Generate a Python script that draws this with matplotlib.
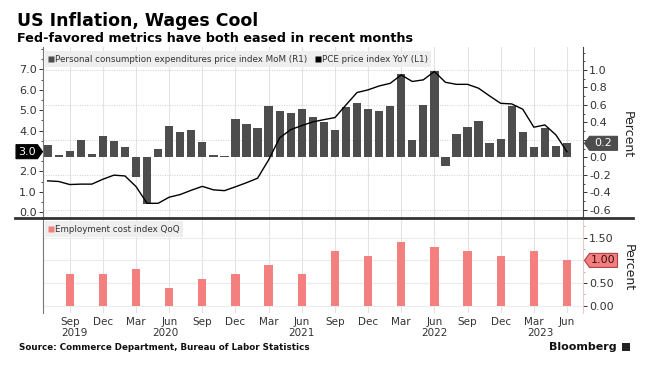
import numpy as np
import matplotlib
matplotlib.use("Agg")
import matplotlib.pyplot as plt
from matplotlib.lines import Line2D
from matplotlib.patches import Polygon, Rectangle
from matplotlib.transforms import IdentityTransform, blended_transform_factory

plt.rcParams['font.family'] = ['DejaVu Sans']
plt.rcParams['axes.unicode_minus'] = False

# ---------------- data (monthly, Jul 2019 .. Jun 2023) ----------------
pce_mom = [0.14, 0.03, 0.07, 0.20, 0.04, 0.24, 0.19, 0.12, -0.22, -0.53, 0.10, 0.36,
           0.29, 0.31, 0.18, 0.03, 0.015, 0.435, 0.385, 0.34, 0.59, 0.53, 0.51, 0.55,
           0.46, 0.40, 0.31, 0.58, 0.62, 0.55, 0.53, 0.59, 0.95, 0.20, 0.60, 0.99,
           -0.095, 0.27, 0.35, 0.42, 0.16, 0.21, 0.59, 0.29, 0.12, 0.34, 0.13, 0.16]
pce_yoy = [1.54, 1.51, 1.36, 1.38, 1.38, 1.62, 1.82, 1.78, 1.26, 0.44, 0.44, 0.74,
           0.87, 1.08, 1.27, 1.10, 1.06, 1.25, 1.45, 1.67, 2.57, 3.65, 4.05, 4.25,
           4.43, 4.54, 4.64, 5.26, 5.87, 6.00, 6.19, 6.32, 6.73, 6.41, 6.49, 6.90,
           6.37, 6.27, 6.27, 6.08, 5.70, 5.34, 5.31, 5.05, 4.17, 4.28, 3.79, 2.97]
# quarterly (Sep 2019 .. Jun 2023)
eci_qoq = [0.7, 0.7, 0.8, 0.4, 0.6, 0.7, 0.9, 0.7, 1.2, 1.1, 1.4, 1.3, 1.2, 1.1, 1.2, 1.0]

month_ticks = ['Sep', 'Dec', 'Mar', 'Jun'] * 4
year_labels = ['2019', '2020', '2021', '2022', '2023']
year_label_pos = [2.4, 10.7, 23.0, 35.0, 44.6]   # month index (0 = Jul 2019)

title = 'US Inflation, Wages Cool'
subtitle = 'Fed-favored metrics have both eased in recent months'
source = 'Source: Commerce Department, Bureau of Labor Statistics'

# ---------------- styling ----------------
W, H = 648, 366
BAR_DARK = '#4d4d4d'
ECI_COL = '#f47f7f'
GRID = '#e3e3e3'
TXT = '#333333'

x_month = np.arange(len(pce_mom))
x_q = np.arange(2, len(pce_mom), 3)
xlim = (-0.42, 48.45)

fig = plt.figure(figsize=(W / 100, H / 100), dpi=100)

def fx(px):
    return px / W

def fy(py):
    return 1 - py / H

def tick_text(vals, fmt, hide_near, tol):
    # labels hidden behind the last-value tag are left blank
    return ['' if abs(v - hide_near) < tol else fmt % v for v in vals]

# top panel: main axis = right (MoM bars), twin = left (YoY line)
axr = fig.add_axes([fx(43), fy(218), fx(583) - fx(43), fy(47) - fy(218)])
axl = axr.twinx()
axr.yaxis.tick_right()
axr.yaxis.set_label_position('right')
axl.yaxis.tick_left()
axl.yaxis.set_label_position('left')

for v in x_q:
    axr.axvline(v, color=GRID, lw=0.8, zorder=0)
for v in [1.0, 0.6, 0.2, -0.2, -0.6]:
    axr.axhline(v, color='#d0d0d0', lw=0.7, ls=(0, (1, 1.5)), zorder=0)

axr.bar(x_month, pce_mom, width=0.75, color=BAR_DARK, zorder=2)
axl.plot(x_month, pce_yoy, color='black', lw=1.0, zorder=3)

axr.set_xlim(*xlim)
axr.set_ylim(-0.695, 1.263)
axl.set_ylim(-0.28, 8.1)

r_ticks = np.round(np.arange(-0.6, 1.01, 0.2), 1)
axr.set_yticks(r_ticks)
axr.set_yticks(np.round(np.arange(-0.6, 1.21, 0.1), 1), minor=True)
axr.set_yticklabels(tick_text(r_ticks, '%.1f', pce_mom[-1], 0.1))
l_ticks = np.arange(0, 7.01, 1.0)
axl.set_yticks(l_ticks)
axl.set_yticks(np.arange(0, 8.01, 0.5), minor=True)
axl.set_yticklabels(tick_text(l_ticks, '%.1f', pce_yoy[-1], 0.45))

for a in (axr, axl):
    a.tick_params(axis='x', which='both', bottom=False, labelbottom=False)
    a.spines['top'].set_visible(False)
    a.spines['bottom'].set_visible(False)
axr.tick_params(axis='y', which='major', length=3, width=0.7, pad=1.5, labelsize=8, colors=TXT)
axr.tick_params(axis='y', which='minor', length=1.5, width=0.6, colors=TXT)
axl.tick_params(axis='y', which='major', length=3, width=0.7, pad=1.5, labelsize=8, colors=TXT)
axl.tick_params(axis='y', which='minor', length=1.5, width=0.6, colors=TXT)
axr.spines['left'].set_visible(False)
axl.spines['right'].set_visible(False)
axl.spines['left'].set_color('#777777')
axr.spines['right'].set_color('#444444')
axl.spines['left'].set_linewidth(0.8)
axr.spines['right'].set_linewidth(0.8)
axr.set_facecolor('white')

h1 = Line2D([], [], marker='s', color='none', markerfacecolor=BAR_DARK, markeredgecolor='none', markersize=5)
h2 = Line2D([], [], marker='s', color='none', markerfacecolor='black', markeredgecolor='none', markersize=5)
leg = axl.legend([h1, h2], ['Personal consumption expenditures price index MoM (R1)', 'PCE price index YoY (L1)'],
                 loc='upper left', bbox_to_anchor=(0.0, 0.985), ncol=2, fontsize=6.3, frameon=True,
                 fancybox=False, framealpha=1, facecolor='#eeeeee', edgecolor='none', borderpad=0.4,
                 handlelength=0.6, handletextpad=0.15, columnspacing=0.9, borderaxespad=0.2)
for t in leg.get_texts():
    t.set_color(TXT)

fig.text(fx(627), fy(135), 'Percent', rotation=270, ha='center', va='center', fontsize=9, color='#222222')

# bottom panel
axb = fig.add_axes([fx(43), fy(313), fx(583) - fx(43), fy(218) - fy(313)])
for v in x_q:
    axb.axvline(v, color=GRID, lw=0.8, zorder=0)
for v in [0.0, 0.5, 1.0, 1.5]:
    axb.axhline(v, color='#ececec', lw=0.8, zorder=0)
axb.bar(x_q, eci_qoq, width=0.75, color=ECI_COL, zorder=2)
axb.set_xlim(*xlim)
axb.set_ylim(-0.161, 1.936)
axb.yaxis.tick_right()
b_ticks = [0.0, 0.5, 1.0, 1.5]
axb.set_yticks(b_ticks)
axb.set_yticklabels(tick_text(b_ticks, '%.2f', eci_qoq[-1], 0.2))
axb.set_yticks(np.arange(0, 1.76, 0.25), minor=True)
axb.tick_params(axis='y', which='major', length=3, width=0.7, pad=1.5, labelsize=8, colors=TXT)
axb.tick_params(axis='y', which='minor', length=1.5, width=0.6, colors='#cc9999')
axb.set_xticks(x_q)
axb.set_xticklabels(month_ticks)
axb.tick_params(axis='x', length=0, pad=3, labelsize=7.5, colors=TXT)
for s in ('top', 'bottom'):
    axb.spines[s].set_visible(False)
axb.spines['left'].set_color('#777777')
axb.spines['left'].set_linewidth(0.8)
axb.spines['right'].set_color('#e6cccc')
axb.spines['right'].set_linewidth(0.8)
trb = blended_transform_factory(axb.transData, axb.transAxes)
for lab, pos in zip(year_labels, year_label_pos):
    axb.text(pos, -0.215, lab, transform=trb, ha='center', va='center', fontsize=7.5, color=TXT)

h3 = Line2D([], [], marker='s', color='none', markerfacecolor=ECI_COL, markeredgecolor='none', markersize=5)
leg2 = axb.legend([h3], ['Employment cost index QoQ'], loc='upper left', bbox_to_anchor=(0.0, 0.985),
                  fontsize=6.3, frameon=True, fancybox=False, framealpha=1, facecolor='#eeeeee',
                  edgecolor='none', borderpad=0.4, handlelength=0.6, handletextpad=0.15, borderaxespad=0.2)
for t in leg2.get_texts():
    t.set_color(TXT)

fig.text(fx(628), fy(268), 'Percent', rotation=270, ha='center', va='center', fontsize=9, color='#222222')

# separator
fig.add_artist(Line2D([fx(15), fx(633)], [fy(218), fy(218)], color='#333333', lw=2.0))

# value tags
def tag(ax, val, side, label, fc, ec, tc):
    y = ax.transData.transform((0, val))[1]
    h = 7
    if side == 'right':
        xe = ax.transAxes.transform((1, 0))[0]
        tip, b0, b1 = xe + 1.5, xe + 6.5, xe + 34.5
        pts = [(tip, y), (b0, y + h), (b1, y + h), (b1, y - h), (b0, y - h)]
        cx = (b0 + b1) / 2
    else:
        xe = ax.transAxes.transform((0, 0))[0]
        tip, b1, b0 = xe - 0.5, xe - 5.5, 16
        pts = [(b0, y + h), (b1, y + h), (tip, y), (b1, y - h), (b0, y - h)]
        cx = (b0 + b1) / 2
    fig.add_artist(Polygon(pts, closed=True, transform=IdentityTransform(), fc=fc, ec=ec, lw=0.8))
    fig.text(cx, y, label, transform=IdentityTransform(), ha='center', va='center', fontsize=8, color=tc)

tag(axr, pce_mom[-1], 'right', '%.1f' % pce_mom[-1], '#4d4d4d', '#4d4d4d', 'white')
tag(axl, pce_yoy[-1], 'left', '%.1f' % pce_yoy[-1], 'black', 'black', 'white')
tag(axb, eci_qoq[-1], 'right', '%.2f' % eci_qoq[-1], ECI_COL, '#b04040', '#3a1010')

# titles and footer
fig.text(fx(17), fy(21), title, ha='left', va='center', fontsize=12.5, fontweight='bold', color='black')
fig.text(fx(17), fy(38), subtitle, ha='left', va='center', fontsize=9.2, fontweight='bold', color='black')
fig.text(fx(19), fy(348), source, ha='left', va='center', fontsize=6.3, fontweight='bold', color='#111111')
fig.text(fx(617), fy(347), 'Bloomberg', ha='right', va='center', fontsize=8, fontweight='bold', color='#111111')
fig.add_artist(Rectangle((fx(622), fy(351)), fx(8), fy(343) - fy(351), transform=fig.transFigure,
                         fc='#222222', ec='none'))

fig.savefig('out.png', dpi=100, facecolor='white')
